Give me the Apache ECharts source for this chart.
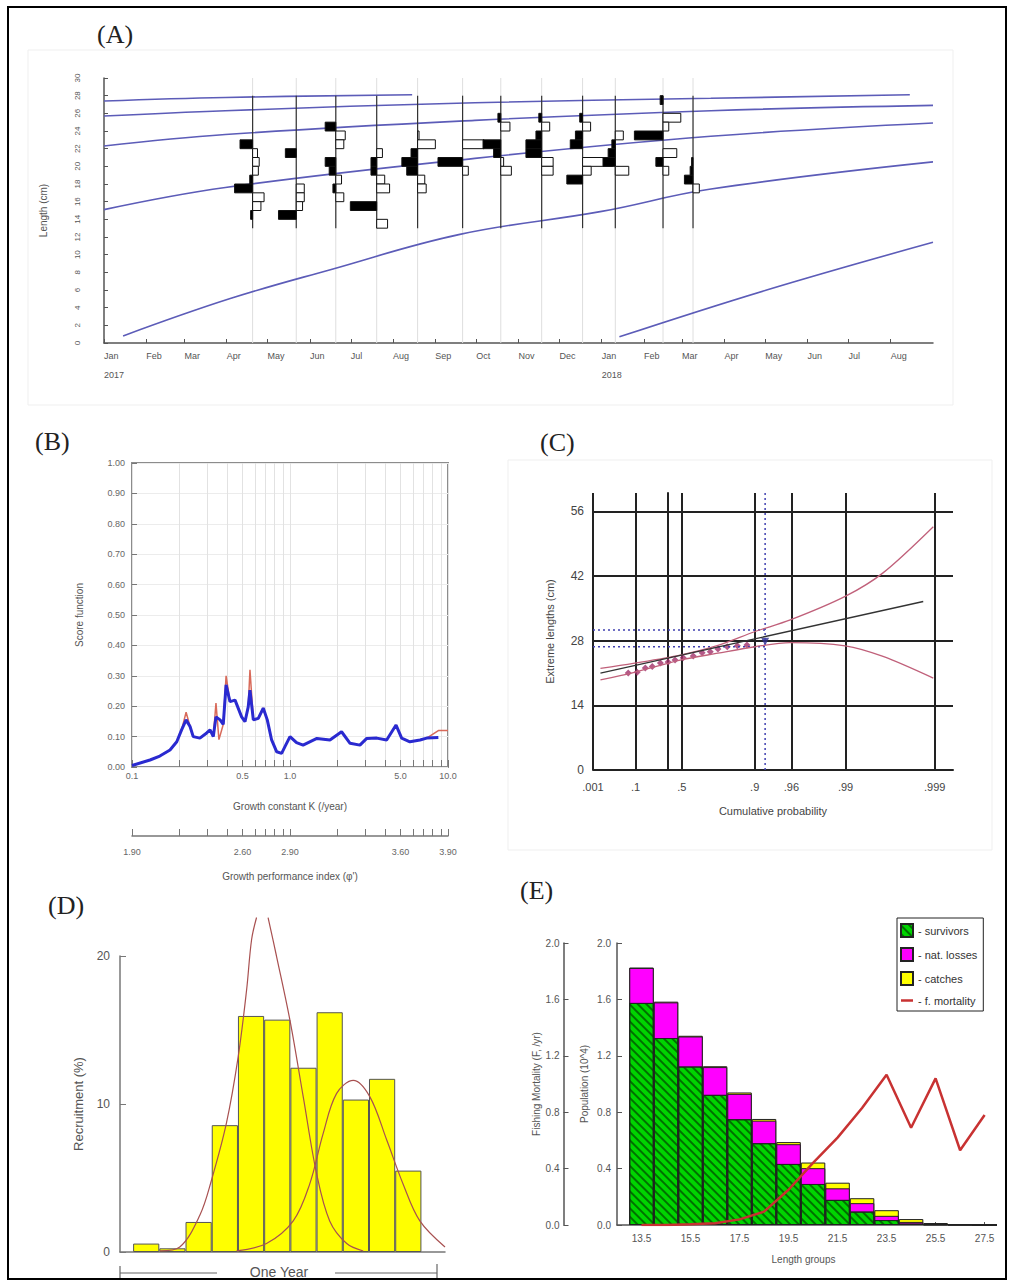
<!DOCTYPE html>
<html><head><meta charset="utf-8">
<script src="https://cdn.jsdelivr.net/npm/echarts@6/dist/echarts.min.js"></script>
<style>html,body{margin:0;padding:0;background:#fff}#c{width:1011px;height:1283px}</style>
</head><body><div id="c"></div>
<script>
// ================= Panel A : length-frequency data with growth curves =================
// x values are days since 1 Jan 2017
const monthTickDays = [0,31,59,90,120,151,181,212,243,273,304,334,365,396,424,455,485,516,546,577];
const monthLabels = ['Jan','Feb','Mar','Apr','May','Jun','Jul','Aug','Sep','Oct','Nov','Dec','Jan','Feb','Mar','Apr','May','Jun','Jul','Aug'];
const yearLabelDays = [0, 365];
const yearLabels = ['2017', '2018'];
const sampleDays = [109,141,170,200,230,263,291,321,351,375,410,432];
// [length class lower bound (cm), restructured frequency] (+ = black peak, - = white trough)
const lfqSample01 = [[22,0.44],[21,-0.17],[20,-0.23],[19,-0.2],[18,0.1],[17,0.63],[16,-0.4],[15,-0.29],[14,0.07]];
const lfqSample02 = [[21,0.38],[17,-0.28],[16,-0.28],[15,-0.22],[14,0.62]];
const lfqSample03 = [[24,0.37],[23,-0.33],[22,-0.28],[20,0.37],[19,0.23],[18,-0.2],[17,0.1],[16,-0.28]];
const lfqSample04 = [[21,-0.2],[20,0.2],[19,0.2],[18,-0.28],[17,-0.45],[15,0.92],[13,-0.38]];
const lfqSample05 = [[23,-0.05],[22,-0.62],[21,0.23],[20,0.55],[19,0.38],[18,-0.25],[17,-0.3]];
const lfqSample06 = [[22,-0.75],[20,0.86],[19,-0.2]];
const lfqSample07 = [[25,0.1],[24,-0.32],[22,0.62],[21,0.25],[20,-0.1],[19,-0.37]];
const lfqSample08 = [[25,0.1],[24,-0.28],[23,0.2],[22,0.55],[21,0.55],[20,-0.4],[19,-0.4]];
const lfqSample09 = [[25,0.1],[24,-0.28],[23,0.25],[22,0.43],[20,-1.05],[19,-0.3],[18,0.55]];
const lfqSample10 = [[23,-0.28],[22,0.12],[21,0.25],[20,0.43],[19,-0.47]];
const lfqSample11 = [[27,0.1],[25,-0.62],[24,-0.2],[23,1.0],[21,-0.48],[20,0.25],[19,-0.2]];
const lfqSample12 = [[20,0.05],[19,0.1],[18,0.3],[17,-0.22]];
const lfqSamples = [lfqSample01,lfqSample02,lfqSample03,lfqSample04,lfqSample05,lfqSample06,
                    lfqSample07,lfqSample08,lfqSample09,lfqSample10,lfqSample11,lfqSample12];
// growth curves [day, length cm]
const growthCurve1 = [[0,27.4],[89,27.8],[226,28.1]];
const growthCurve2 = [[0,25.7],[89,26.3],[272,27.2],[445,27.7],[591,28.1]];
const growthCurve3 = [[0,22.3],[89,23.6],[272,25.2],[445,26.3],[608,26.9]];
const growthCurve4 = [[0,15.1],[89,17.6],[272,20.9],[445,23.4],[608,24.9]];
const growthCurve5 = [[14,0.8],[92,5.0],[166,8.3],[261,12.3],[365,14.9],[444,17.4],[608,20.5]];
const growthCurve6 = [[378,0.7],[486,6.0],[608,11.4]];

// ================= Panel B : score function vs K =================
const bTickK = [0.1,0.2,0.3,0.4,0.5,0.6,0.7,0.8,0.9,1,2,3,4,5,6,7,8,9,10];
const bLabelK = [0.1,0.5,1,5,10];
const bPhiLabels = ['1.90','2.60','2.90','3.60','3.90'];
const bScoreBlue = [[0.1,0.005],[0.13,0.023],[0.15,0.036],[0.174,0.056],[0.192,0.083],[0.206,0.122],[0.22,0.155],
  [0.233,0.133],[0.244,0.10],[0.269,0.095],[0.297,0.112],[0.312,0.122],[0.327,0.10],[0.34,0.165],[0.361,0.155],
  [0.378,0.14],[0.394,0.27],[0.417,0.215],[0.449,0.22],[0.494,0.165],[0.519,0.149],[0.544,0.198],[0.558,0.253],
  [0.586,0.155],[0.63,0.16],[0.677,0.194],[0.718,0.155],[0.765,0.089],[0.824,0.05],[0.885,0.045],[0.929,0.067],
  [1.0,0.10],[1.1,0.08],[1.21,0.072],[1.48,0.094],[1.79,0.089],[2.12,0.116],[2.4,0.078],[2.77,0.072],[3.06,0.094],
  [3.54,0.095],[4.09,0.089],[4.69,0.138],[5.09,0.095],[5.74,0.083],[6.65,0.089],[7.33,0.095],[8.69,0.097]];
const bScoreRed = [[0.1,0.005],[0.13,0.023],[0.15,0.036],[0.174,0.056],[0.192,0.083],[0.206,0.122],[0.22,0.18],
  [0.233,0.133],[0.244,0.10],[0.269,0.095],[0.297,0.112],[0.312,0.122],[0.327,0.10],[0.34,0.21],[0.355,0.09],
  [0.378,0.14],[0.394,0.30],[0.417,0.215],[0.449,0.22],[0.494,0.165],[0.519,0.149],[0.544,0.198],[0.558,0.32],
  [0.586,0.155],[0.63,0.16],[0.677,0.194],[0.718,0.155],[0.765,0.089],[0.824,0.05],[0.885,0.045],[0.929,0.067],
  [1.0,0.10],[1.1,0.08],[1.21,0.072],[1.48,0.094],[1.79,0.089],[2.12,0.116],[2.4,0.078],[2.77,0.072],[3.06,0.094],
  [3.54,0.095],[4.09,0.089],[4.69,0.138],[5.09,0.095],[5.74,0.083],[6.65,0.089],[7.33,0.095],[8.69,0.12],[10,0.12]];

// ================= Panel C : extreme value (Gumbel) plot =================
const cProbTicks = [0.001,0.1,0.5,0.9,0.96,0.99,0.999];
const cProbLabels = ['.001','.1','.5','.9','.96','.99','.999'];
const cLengthTicks = [0,14,28,42,56];
// x in Gumbel reduced variate, y length (cm)
const cObserved = [[-1.02,21.0],[-0.79,21.2],[-0.58,22.1],[-0.40,22.4],[-0.19,23.2],[0.01,23.4],[0.19,23.8],[0.40,24.3],
  [0.66,24.7],[0.89,25.4],[1.10,25.6],[1.30,26.2],[1.54,26.7],[1.80,26.9],[2.05,27.1]];
const cPredicted = [[2.52,27.8]];
const cRegression = [[-1.74,21.0],[2.25,28.4],[6.61,36.5]];
const cUpperCI = [[-1.74,22.0],[-0.89,23.1],[0.32,24.9],[1.3,27.0],[2.26,30.0],[3.17,32.5],[4.59,37.6],[5.57,42.7],[6.87,52.7]];
const cLowerCI = [[-1.74,19.5],[-0.89,21.1],[0.32,23.8],[1.3,25.3],[2.26,26.7],[3.17,27.6],[4.59,26.9],[5.57,24.6],[6.87,19.9]];
const cDropX = 2.52, cDropHigh = 30.3, cDropLow = 26.7;

// ================= Panel D : recruitment pattern =================
const dMonth = [1,2,3,4,5,6,7,8,9,10,11];
const dRecruit = [0.57,0.25,2.03,8.57,15.95,15.7,12.45,16.2,10.3,11.7,5.5];
const dCurve1 = [[1.52,0.07],[2.28,0.34],[3.05,2.5],[3.49,4.85],[4.06,8.7],[4.51,13.2],[4.83,17.7],[5.02,21.1],[5.21,22.6],
  [5.43,'-'],[5.65,22.6],[5.97,20.0],[6.48,15.7],[6.99,10.5],[7.5,5.3],[8.0,2.1],[8.65,0.57],[9.28,0.07]];
const dCurve2 = [[4.45,0.07],[5.59,0.57],[6.61,2.1],[7.24,4.6],[7.75,8.0],[8.26,10.7],[8.9,11.6],[9.53,10.5],[10.17,7.6],
  [10.8,4.6],[11.44,2.1],[12.4,0.34]];

// ================= Panel E : length-structured VPA =================
const eLength = [13.5,14.5,15.5,16.5,17.5,18.5,19.5,20.5,21.5,22.5,23.5,24.5,25.5,26.5,27.5];
const eLengthLabels = [13.5,15.5,17.5,19.5,21.5,23.5,25.5,27.5];
const eSurvivors = [1.575,1.326,1.124,0.923,0.75,0.58,0.433,0.291,0.178,0.095,0.035,0.01,0.004,0.002,0];
const eNatLosses = [0.248,0.253,0.213,0.197,0.18,0.16,0.14,0.112,0.082,0.06,0.03,0.012,0.004,0.002,0];
const eCatches = [0.003,0.005,0.005,0.006,0.01,0.012,0.015,0.04,0.04,0.035,0.04,0.02,0.006,0.003,0];
const eFMortality = [0.0,0.0,0.005,0.012,0.04,0.095,0.25,0.44,0.62,0.83,1.065,0.69,1.04,0.53,0.78];

// ---------------------------------------------------------------------------------------
const FONT = '"Liberation Sans", Arial, sans-serif';
const SERIF = '"Liberation Serif", "Times New Roman", serif';
const barUnitDays = 21;
const gumbelRV = p => -Math.log(-Math.log(p));
const cTickPos = cProbTicks.map(gumbelRV);
const pick = (arr, vals, v) => { for (let i = 0; i < arr.length; i++) if (Math.abs(arr[i] - v) < 1e-6 * Math.max(1, Math.abs(v))) return vals[i]; return ''; };

const lfqData = [];
lfqSamples.forEach((s, i) => s.forEach(([cls, v]) => lfqData.push([sampleDays[i], cls, v])));

// cumulative tops for the stacked VPA bars (survivors at bottom, then natural losses, then catches)
const eNatTop = eSurvivors.map((s, i) => s + eNatLosses[i]);
const eCatchTop = eNatTop.map((s, i) => s + eCatches[i]);

const txt = (c, s) => ({color: c || '#555', fontSize: s || 10, fontFamily: FONT});

const chart = echarts.init(document.getElementById('c'), null, {renderer: 'svg', width: 1011, height: 1283});

const option = {
  backgroundColor: '#fff',
  animation: false,
  textStyle: {fontFamily: FONT},
  grid: [
    {left: 104, top: 78, width: 829, height: 265},
    {left: 132, top: 463, width: 316, height: 304, show: true, borderColor: '#8c8c8c', borderWidth: 2, backgroundColor: 'transparent'},
    {left: 132, top: 835, width: 316, height: 1},
    {left: 593, top: 493, width: 360, height: 277},
    {left: 120, top: 956, width: 325, height: 296},
    {left: 617, top: 943, width: 373, height: 282}
  ],
  xAxis: [
    {gridIndex: 0, type: 'value', min: 0, max: 608,
     axisLine: {lineStyle: {color: '#555', width: 1.5}},
     axisTick: {customValues: monthTickDays, inside: true, length: 4, lineStyle: {color: '#555'}},
     axisLabel: {customValues: monthTickDays, align: 'left', margin: 3, lineHeight: 19, ...txt('#555', 9),
       formatter: v => { const m = pick(monthTickDays, monthLabels, v); const y = pick(yearLabelDays, yearLabels, v); return y ? m + '\n' + y : m; }},
     splitLine: {show: false}},
    {gridIndex: 1, type: 'log', logBase: 10, min: 0.1, max: 10,
     axisLine: {show: false},
     axisTick: {customValues: bTickK, inside: true, length: 7, lineStyle: {color: '#777'}},
     axisLabel: {customValues: bLabelK, margin: 4, ...txt('#666', 9), formatter: v => Number(v).toFixed(1)},
     splitLine: {show: true, lineStyle: {color: '#e2e2e2'}},
     name: 'Growth constant K (/year)', nameLocation: 'middle', nameGap: 34, nameTextStyle: txt('#555', 10)},
    {gridIndex: 2, type: 'log', logBase: 10, min: 0.1, max: 10,
     axisLine: {show: true, lineStyle: {color: '#777', width: 1.5}},
     axisTick: {customValues: bTickK, inside: true, length: 7, lineStyle: {color: '#777'}},
     axisLabel: {customValues: bLabelK, margin: 11, ...txt('#666', 9), formatter: v => pick(bLabelK, bPhiLabels, v)},
     splitLine: {show: false},
     name: "Growth performance index (φ')", nameLocation: 'middle', nameGap: 35, nameTextStyle: txt('#555', 10)},
    {gridIndex: 3, type: 'value', min: gumbelRV(0.001), max: 7.38,
     axisLine: {lineStyle: {color: '#222', width: 2}},
     axisTick: {show: false, customValues: cTickPos},
     axisLabel: {customValues: cTickPos, margin: 11, ...txt('#444', 11), formatter: v => pick(cTickPos, cProbLabels, v)},
     splitLine: {show: true, lineStyle: {color: '#222', width: 2}},
     name: 'Cumulative probability', nameLocation: 'middle', nameGap: 35, nameTextStyle: txt('#444', 11)},
    {gridIndex: 4, type: 'value', min: 0, max: 12.4,
     axisLine: {lineStyle: {color: '#777', width: 1.5}}, axisTick: {show: false}, axisLabel: {show: false}, splitLine: {show: false}},
    {gridIndex: 5, type: 'value', min: 12.5, max: 27.72,
     axisLine: {lineStyle: {color: '#555', width: 1.5}},
     axisTick: {customValues: eLengthLabels, inside: true, length: 3, lineStyle: {color: '#555'}},
     axisLabel: {customValues: eLengthLabels, margin: 8, ...txt('#555', 10), formatter: v => Number(v).toFixed(1)},
     splitLine: {show: false},
     name: 'Length groups', nameLocation: 'middle', nameGap: 29, nameTextStyle: txt('#555', 10)}
  ],
  yAxis: [
    {gridIndex: 0, type: 'value', min: 0, max: 30, interval: 2, offset: 16,
     axisLine: {show: true, lineStyle: {color: '#555', width: 1.5}},
     axisTick: {inside: true, length: 4, lineStyle: {color: '#555'}},
     axisLabel: {rotate: 90, margin: 7, ...txt('#555', 8)},
     splitLine: {show: false},
     name: 'Length (cm)', nameLocation: 'middle', nameGap: 40, nameTextStyle: txt('#555', 10)},
    {gridIndex: 1, type: 'value', min: 0, max: 1, interval: 0.1,
     axisLine: {show: false},
     axisTick: {show: true, inside: true, length: 5, lineStyle: {color: '#777'}},
     axisLabel: {margin: 7, ...txt('#666', 9), formatter: v => v.toFixed(2)},
     splitLine: {show: true, lineStyle: {color: '#ececec'}},
     name: 'Score function', nameLocation: 'middle', nameGap: 48, nameTextStyle: txt('#555', 10)},
    {gridIndex: 2, type: 'value', min: 0, max: 1, show: false},
    {gridIndex: 3, type: 'value', min: 0, max: 60,
     axisLine: {show: true, lineStyle: {color: '#222', width: 2}},
     axisTick: {show: false, customValues: cLengthTicks},
     axisLabel: {customValues: cLengthTicks, margin: 9, ...txt('#444', 12)},
     splitLine: {show: true, lineStyle: {color: '#222', width: 2}},
     name: 'Extreme lengths (cm)', nameLocation: 'middle', nameGap: 38, nameTextStyle: txt('#444', 11)},
    {gridIndex: 4, type: 'value', min: 0, max: 20, interval: 10,
     axisLine: {show: true, lineStyle: {color: '#777', width: 1.5}},
     axisTick: {inside: true, length: 6, lineStyle: {color: '#777'}},
     axisLabel: {margin: 10, ...txt('#555', 12)},
     splitLine: {show: false},
     name: 'Recruitment (%)', nameLocation: 'middle', nameGap: 35, nameTextStyle: txt('#555', 13)},
    {gridIndex: 5, type: 'value', min: 0, max: 2, interval: 0.4,
     axisLine: {show: true, lineStyle: {color: '#555', width: 1.5}},
     axisTick: {inside: true, length: 5, lineStyle: {color: '#555'}},
     axisLabel: {margin: 6, ...txt('#555', 10), formatter: v => v.toFixed(1)},
     splitLine: {show: false},
     name: 'Population (10^4)', nameLocation: 'middle', nameGap: 28, nameTextStyle: txt('#555', 10)},
    {gridIndex: 5, type: 'value', min: 0, max: 2, interval: 0.4, position: 'left', offset: 53.5,
     axisLine: {show: true, lineStyle: {color: '#555', width: 1.5}},
     axisTick: {inside: true, length: 5, lineStyle: {color: '#555'}},
     axisLabel: {margin: 4, ...txt('#555', 10), formatter: v => v.toFixed(1)},
     splitLine: {show: false},
     name: 'Fishing Mortality (F, /yr)', nameLocation: 'middle', nameGap: 22, nameTextStyle: txt('#555', 10)}
  ],
  legend: {
    left: 897, top: 918, orient: 'vertical', selectedMode: false,
    itemWidth: 12, itemHeight: 13, itemGap: 9, padding: [5, 6, 5, 3],
    borderColor: '#222', borderWidth: 1, backgroundColor: '#fff',
    textStyle: {fontSize: 11, color: '#333', fontFamily: FONT},
    data: [{name: '- survivors', icon: 'rect'}, {name: '- nat. losses', icon: 'rect'}, {name: '- catches', icon: 'rect'},
           {name: '- f. mortality', icon: 'path://M0,0 L12,0 L12,2.5 L0,2.5 Z'}]
  },
  series: [
    // ---- Panel A ----
    {type: 'custom', xAxisIndex: 0, yAxisIndex: 0, silent: true, z: 1,
     data: sampleDays.map(d => [d, 0, 30]), encode: {x: 0, y: 1},
     renderItem: (p, api) => { const a = api.coord([api.value(0), 0]), b = api.coord([api.value(0), 30]);
       return {type: 'line', shape: {x1: a[0], y1: a[1], x2: b[0], y2: b[1]}, style: {stroke: '#dedede', lineWidth: 1}}; }},
    ...[growthCurve1, growthCurve2, growthCurve3, growthCurve4, growthCurve5, growthCurve6].map(c => ({
      type: 'line', xAxisIndex: 0, yAxisIndex: 0, data: c, smooth: 0.4, symbol: 'none', silent: true, z: 2,
      lineStyle: {color: '#5c5cb8', width: 1.6}})),
    {type: 'custom', xAxisIndex: 0, yAxisIndex: 0, silent: true, z: 3,
     data: sampleDays.map(d => [d, 13, 28]), encode: {x: 0, y: 1},
     renderItem: (p, api) => { const a = api.coord([api.value(0), 13]), b = api.coord([api.value(0), 28]);
       return {type: 'line', shape: {x1: a[0], y1: a[1], x2: b[0], y2: b[1]}, style: {stroke: '#333', lineWidth: 1.2}}; }},
    {type: 'custom', xAxisIndex: 0, yAxisIndex: 0, silent: true, z: 4,
     data: lfqData, encode: {x: 0, y: 1},
     renderItem: (p, api) => {
       const d = api.value(0), c = api.value(1), v = api.value(2);
       const p0 = api.coord([d, c + 1]), p1 = api.coord([d - v * barUnitDays, c]);
       return {type: 'rect', shape: {x: Math.min(p0[0], p1[0]), y: p0[1], width: Math.abs(p1[0] - p0[0]), height: p1[1] - p0[1]},
         style: {fill: v > 0 ? '#000' : '#fff', stroke: '#111', lineWidth: 1}}; }},
    // ---- Panel B ----
    {type: 'line', xAxisIndex: 1, yAxisIndex: 1, data: bScoreRed, symbol: 'none', silent: true,
     lineStyle: {color: '#d86a5a', width: 1.5}},
    {type: 'line', xAxisIndex: 1, yAxisIndex: 1, data: bScoreBlue, symbol: 'none', silent: true,
     lineStyle: {color: '#2a2ad0', width: 3}},
    // ---- Panel C ----
    {type: 'line', xAxisIndex: 3, yAxisIndex: 3, data: [[cDropX, 0], [cDropX, 60]], symbol: 'none', silent: true,
     lineStyle: {color: '#4040b0', width: 1.5, type: [2, 3]}},
    {type: 'line', xAxisIndex: 3, yAxisIndex: 3, data: [[gumbelRV(0.001), cDropHigh], [cDropX, cDropHigh]], symbol: 'none', silent: true,
     lineStyle: {color: '#4040b0', width: 1.5, type: [2, 3]}},
    {type: 'line', xAxisIndex: 3, yAxisIndex: 3, data: [[gumbelRV(0.001), cDropLow], [cDropX, cDropLow]], symbol: 'none', silent: true,
     lineStyle: {color: '#4040b0', width: 1.5, type: [2, 3]}},
    {type: 'line', xAxisIndex: 3, yAxisIndex: 3, data: cUpperCI, smooth: 0.3, symbol: 'none', silent: true,
     lineStyle: {color: '#c0607a', width: 1.3}},
    {type: 'line', xAxisIndex: 3, yAxisIndex: 3, data: cLowerCI, smooth: 0.3, symbol: 'none', silent: true,
     lineStyle: {color: '#c0607a', width: 1.3}},
    {type: 'line', xAxisIndex: 3, yAxisIndex: 3, data: cRegression, symbol: 'none', silent: true,
     lineStyle: {color: '#333', width: 1.3}},
    {type: 'scatter', xAxisIndex: 3, yAxisIndex: 3, data: cObserved, symbol: 'diamond', symbolSize: 7, silent: true,
     itemStyle: {color: '#a0306a'}},
    {type: 'scatter', xAxisIndex: 3, yAxisIndex: 3, data: cPredicted, symbol: 'triangle', symbolRotate: 180, symbolSize: 8, silent: true,
     itemStyle: {color: '#303090'}},
    // ---- Panel D ----
    {type: 'bar', xAxisIndex: 4, yAxisIndex: 4, data: dMonth.map((m, i) => [m, dRecruit[i]]), barWidth: 26.2, silent: true,
     itemStyle: {color: '#ffff00', borderColor: '#555', borderWidth: 1}},
    {type: 'line', xAxisIndex: 4, yAxisIndex: 4, data: dCurve1, smooth: 0.35, symbol: 'none', silent: true, clip: false, connectNulls: false,
     lineStyle: {color: '#a85050', width: 1.2}},
    {type: 'line', xAxisIndex: 4, yAxisIndex: 4, data: dCurve2, smooth: 0.35, symbol: 'none', silent: true, clip: false,
     lineStyle: {color: '#a85050', width: 1.2}},
    // ---- Panel E (overlaid cumulative bars) ----
    {name: '- catches', type: 'bar', xAxisIndex: 5, yAxisIndex: 5, barWidth: 24.5, barGap: '-100%', silent: true,
     data: eLength.map((l, i) => [l, eCatchTop[i]]),
     itemStyle: {color: '#ffff00', borderColor: '#222', borderWidth: 1}},
    {name: '- nat. losses', type: 'bar', xAxisIndex: 5, yAxisIndex: 5, barWidth: 24.5, barGap: '-100%', silent: true,
     data: eLength.map((l, i) => [l, eNatTop[i]]),
     itemStyle: {color: '#ff00ff', borderColor: '#222', borderWidth: 1}},
    {name: '- survivors', type: 'bar', xAxisIndex: 5, yAxisIndex: 5, barWidth: 24.5, barGap: '-100%', silent: true,
     data: eLength.map((l, i) => [l, eSurvivors[i]]),
     itemStyle: {color: '#00d400', borderColor: '#222', borderWidth: 1,
       decal: {symbol: 'rect', symbolSize: 1, dashArrayX: [1, 0], dashArrayY: [2, 4], rotation: Math.PI / 4, color: 'rgba(0,80,0,0.75)'}}},
    {name: '- f. mortality', type: 'line', xAxisIndex: 5, yAxisIndex: 6, z: 5, silent: true,
     data: eLength.map((l, i) => [l, eFMortality[i]]), symbol: 'none',
     lineStyle: {color: '#c83232', width: 2.5}, itemStyle: {color: '#c83232'}}
  ],
  graphic: [
    {type: 'rect', silent: true, z: 0, shape: {x: 28, y: 50, width: 925, height: 355}, style: {fill: 'none', stroke: '#efefef', lineWidth: 1}},
    {type: 'rect', silent: true, z: 0, shape: {x: 508, y: 460, width: 484, height: 390}, style: {fill: 'none', stroke: '#efefef', lineWidth: 1}},
    {type: 'rect', silent: true, z: 100, shape: {x: 8, y: 7, width: 998, height: 1272}, style: {fill: 'none', stroke: '#000', lineWidth: 2}},
    {type: 'text', x: 97, y: 34, style: {text: '(A)', font: '26px ' + SERIF, fill: '#222', verticalAlign: 'middle'}},
    {type: 'text', x: 35, y: 441, style: {text: '(B)', font: '26px ' + SERIF, fill: '#222', verticalAlign: 'middle'}},
    {type: 'text', x: 540, y: 442, style: {text: '(C)', font: '26px ' + SERIF, fill: '#222', verticalAlign: 'middle'}},
    {type: 'text', x: 48, y: 905, style: {text: '(D)', font: '26px ' + SERIF, fill: '#222', verticalAlign: 'middle'}},
    {type: 'text', x: 520, y: 890, style: {text: '(E)', font: '26px ' + SERIF, fill: '#222', verticalAlign: 'middle'}},
    {type: 'line', silent: true, shape: {x1: 120, y1: 1273, x2: 217, y2: 1273}, style: {stroke: '#666', lineWidth: 1.2}},
    {type: 'line', silent: true, shape: {x1: 335, y1: 1273, x2: 437, y2: 1273}, style: {stroke: '#666', lineWidth: 1.2}},
    {type: 'line', silent: true, shape: {x1: 120, y1: 1266, x2: 120, y2: 1280}, style: {stroke: '#666', lineWidth: 1.2}},
    {type: 'line', silent: true, shape: {x1: 437, y1: 1264, x2: 437, y2: 1280}, style: {stroke: '#666', lineWidth: 1.2}},
    {type: 'text', x: 279, y: 1272, style: {text: 'One Year', font: '14px ' + FONT, fill: '#555', align: 'center', verticalAlign: 'middle'}}
  ]
};
chart.setOption(option);
</script></body></html>
